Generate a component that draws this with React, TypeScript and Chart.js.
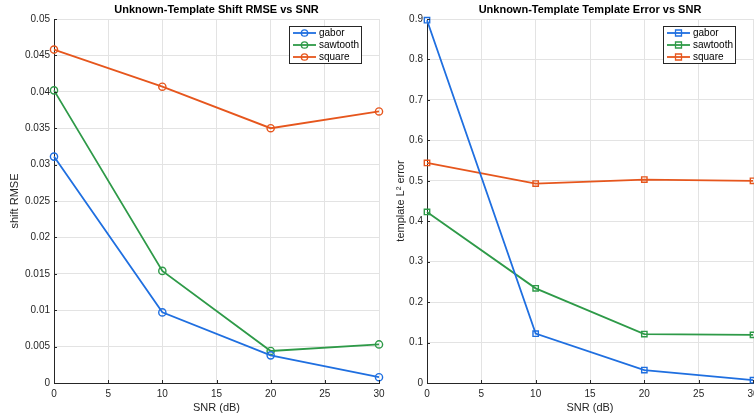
import React, { useEffect, useRef } from "react";
import { Chart, registerables } from "chart.js";

Chart.register(...registerables);

const snr = [0, 10, 20, 30];
const seriesNames = ["gabor", "sawtooth", "square"];
const seriesColors = ["#1F6FE0", "#2E9A48", "#E6561D"];

const rmseGabor = [0.0311, 0.0097, 0.0038, 0.0008];
const rmseSawtooth = [0.0402, 0.0154, 0.0044, 0.0053];
const rmseSquare = [0.0458, 0.0407, 0.035, 0.0373];

const errGabor = [0.897, 0.122, 0.032, 0.007];
const errSawtooth = [0.423, 0.234, 0.121, 0.119];
const errSquare = [0.544, 0.493, 0.503, 0.5];

const FONT = "'Liberation Sans', Arial, Helvetica, sans-serif";
const AXIS = "#262626";
const GRID = "#e3e3e3";

const fmt = (v: number) => String(parseFloat(Number(v).toFixed(4)));

const legendPlugin = {
  id: "matlabLegend",
  afterDraw(chart: any) {
    const { ctx, chartArea } = chart;
    const w = 72, h = 37;
    const left = chartArea.right - 18 - w;
    const top = chartArea.top + 7;
    ctx.save();
    ctx.fillStyle = "#ffffff";
    ctx.fillRect(left, top, w, h);
    ctx.strokeStyle = AXIS;
    ctx.lineWidth = 1;
    ctx.strokeRect(left + 0.5, top + 0.5, w, h);
    chart.data.datasets.forEach((ds: any, i: number) => {
      const y = top + 7 + i * 12;
      ctx.strokeStyle = ds.borderColor;
      ctx.lineWidth = 1.8;
      ctx.beginPath();
      ctx.moveTo(left + 4, y);
      ctx.lineTo(left + 27, y);
      ctx.stroke();
      const cx = left + 15.5;
      ctx.lineWidth = 1.3;
      ctx.beginPath();
      if (ds.pointStyle === "rect") {
        ctx.rect(cx - 3, y - 3, 6, 6);
      } else {
        ctx.arc(cx, y, 3.2, 0, Math.PI * 2);
      }
      ctx.stroke();
      ctx.fillStyle = "#000";
      ctx.font = `10px ${FONT}`;
      ctx.textBaseline = "middle";
      ctx.textAlign = "left";
      ctx.fillText(ds.label, left + 30, y + 0.5);
    });
    ctx.restore();
  },
};

const innerTicksPlugin = {
  id: "innerTicks",
  afterDatasetsDraw(chart: any) {
    const { ctx, chartArea, scales } = chart;
    ctx.save();
    ctx.strokeStyle = AXIS;
    ctx.lineWidth = 1;
    scales.y.ticks.forEach((t: any) => {
      const y = Math.round(scales.y.getPixelForValue(t.value)) + 0.5;
      ctx.beginPath();
      ctx.moveTo(chartArea.left, y);
      ctx.lineTo(chartArea.left + 3, y);
      ctx.stroke();
    });
    scales.x.ticks.forEach((t: any) => {
      const x = Math.round(scales.x.getPixelForValue(t.value)) + 0.5;
      ctx.beginPath();
      ctx.moveTo(x, chartArea.bottom);
      ctx.lineTo(x, chartArea.bottom - 3);
      ctx.stroke();
    });
    ctx.restore();
  },
};

function makeConfig(
  title: string,
  yTitle: string,
  values: number[][],
  yMax: number,
  yStep: number,
  pointStyle: string,
  yWidth: number,
  yTitlePad: number,
  rightPad: number
): any {
  return {
    type: "line",
    data: {
      labels: snr,
      datasets: values.map((vals, i) => ({
        label: seriesNames[i],
        data: snr.map((x, j) => ({ x, y: vals[j] })),
        borderColor: seriesColors[i],
        backgroundColor: "rgba(0,0,0,0)",
        borderWidth: 1.8,
        pointStyle,
        pointRadius: pointStyle === "rect" ? 3.8 : 3.6,
        pointBorderWidth: 1.4,
        pointBackgroundColor: "rgba(0,0,0,0)",
        pointBorderColor: seriesColors[i],
        tension: 0,
        clip: false,
      })),
    },
    options: {
      animation: false,
      responsive: false,
      events: [],
      layout: { padding: { top: 0, right: rightPad, bottom: 0, left: 0 } },
      plugins: {
        legend: { display: false },
        tooltip: { enabled: false },
        title: {
          display: true,
          text: title,
          fullSize: false,
          color: "#000",
          font: { family: FONT, size: 11, weight: "bold", lineHeight: 1.2 },
          padding: { top: 3.5, bottom: 2.3 },
        },
      },
      scales: {
        x: {
          type: "linear",
          min: 0,
          max: 30,
          ticks: {
            stepSize: 5,
            color: AXIS,
            padding: 5,
            maxRotation: 0,
            font: { family: FONT, size: 10, lineHeight: 1.2 },
            callback: (v: number) => fmt(v),
          },
          grid: { color: GRID, drawTicks: false, lineWidth: 1 },
          border: { display: true, color: AXIS, width: 1 },
          title: {
            display: true,
            text: "SNR (dB)",
            color: AXIS,
            font: { family: FONT, size: 11, lineHeight: 1.2 },
            padding: { top: 0, bottom: 4.5 },
          },
          afterFit: (s: any) => {
            s.height = 36;
            s.paddingRight = 0;
            s.paddingLeft = 0;
          },
        },
        y: {
          type: "linear",
          min: 0,
          max: yMax,
          ticks: {
            stepSize: yStep,
            color: AXIS,
            padding: 4,
            font: { family: FONT, size: 10, lineHeight: 1.2 },
            callback: (v: number) => fmt(v),
          },
          grid: { color: GRID, drawTicks: false, lineWidth: 1 },
          border: { display: true, color: AXIS, width: 1 },
          title: {
            display: true,
            text: yTitle,
            color: AXIS,
            font: { family: FONT, size: 11, lineHeight: 1.2 },
            padding: { top: yTitlePad, bottom: 0 },
          },
          afterFit: (s: any) => {
            s.width = yWidth;
          },
        },
      },
    },
    plugins: [innerTicksPlugin, legendPlugin],
  };
}

function ChartCanvas(props: { config: any; left: number; width: number }) {
  const ref = useRef<HTMLCanvasElement | null>(null);
  useEffect(() => {
    if (!ref.current) return;
    const chart = new Chart(ref.current, props.config);
    return () => chart.destroy();
  }, []);
  return (
    <canvas
      ref={ref}
      width={props.width}
      height={419}
      style={{
        position: "absolute",
        left: props.left,
        top: 0,
        width: props.width,
        height: 419,
      }}
    />
  );
}

export default function App() {
  const leftCfg = makeConfig(
    "Unknown-Template Shift RMSE vs SNR",
    "shift RMSE",
    [rmseGabor, rmseSawtooth, rmseSquare],
    0.05,
    0.005,
    "circle",
    54,
    8.8,
    6
  );
  const rightCfg = makeConfig(
    "Unknown-Template Template Error vs SNR",
    "template L\u00B2 error",
    [errGabor, errSawtooth, errSquare],
    0.9,
    0.1,
    "rect",
    47,
    14,
    7
  );
  return (
    <div
      style={{
        position: "fixed",
        left: 0,
        top: 0,
        width: 754,
        height: 419,
        overflow: "hidden",
        background: "#ffffff",
      }}
    >
      <ChartCanvas config={leftCfg} left={0} width={385} />
      <ChartCanvas config={rightCfg} left={380} width={380} />
    </div>
  );
}
